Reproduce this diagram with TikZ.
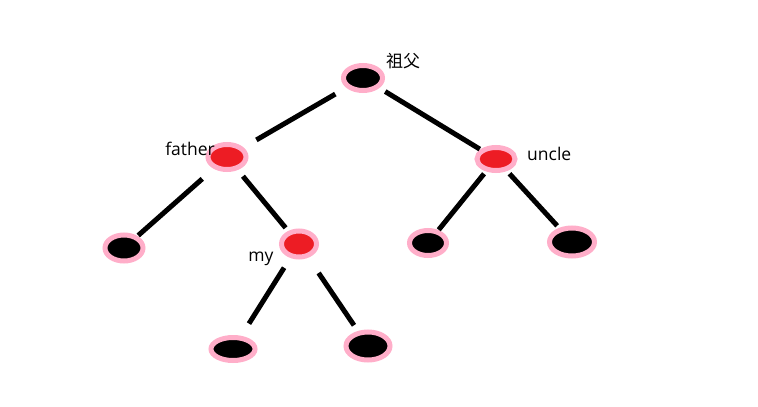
\documentclass[tikz,border=0pt]{standalone}
\usepackage{fontspec}
\setmainfont{Open Sans}
\newfontfamily\cjk{Noto Sans CJK SC}
\usetikzlibrary{shapes.geometric}
\definecolor{ringpink}{RGB}{255,174,201}
\definecolor{paintred}{RGB}{237,28,36}
\begin{document}
\begin{tikzpicture}[x=1pt,y=-1pt,
  treenode/.style={ellipse,draw=ringpink,line width=5pt,inner sep=0pt},
  blacknode/.style={treenode,fill=black},
  rednode/.style={treenode,fill=paintred},
  edge/.style={line width=5pt,black},
  lbl/.style={font=\fontsize{17.5}{20}\selectfont,inner sep=0pt,text=black}]
\useasboundingbox (0,0) rectangle (758,407);
\fill[white] (0,0) rectangle (758,407);
% nodes
\node[blacknode,minimum width=39pt,minimum height=25pt] (root) at (363,78) {};
\node[rednode,minimum width=38pt,minimum height=25pt] (father) at (227,157) {};
\node[rednode,minimum width=38pt,minimum height=23pt] (uncle) at (496,159) {};
\node[blacknode,minimum width=38pt,minimum height=26pt] (fl) at (124,248) {};
\node[rednode,minimum width=35pt,minimum height=26pt] (my) at (299,244) {};
\node[blacknode,minimum width=37pt,minimum height=25pt] (ul) at (428,243) {};
\node[blacknode,minimum width=45pt,minimum height=28pt] (ur) at (572,242) {};
\node[blacknode,minimum width=44pt,minimum height=23pt] (ml) at (233,349) {};
\node[blacknode,minimum width=44pt,minimum height=28pt] (mr) at (368,346) {};
% labels
\node[lbl,font=\cjk\fontsize{17}{20}\selectfont] (lroot) at (403,61) {祖父};
\node[lbl,anchor=east] (lfather) at (215,149) {father};
\node[lbl,anchor=west] (luncle) at (527,154) {uncle};
\node[lbl] (lmy) at (261,259) {my};
% edges
\draw[edge,shorten <=32pt,shorten >=34pt] (root.center) -- (father.center);
\draw[edge,shorten <=26pt,shorten >=19pt] (root.center) -- (uncle.center);
\draw[edge,shorten <=33pt,shorten >=19pt] (father.center) -- (fl.center);
\draw[edge,shorten <=25pt,shorten >=21pt] (father.center) -- (my.center);
\draw[edge,shorten <=19pt,shorten >=17pt] (uncle.center) -- (ul.center);
\draw[edge,shorten <=20pt,shorten >=22pt] (uncle.center) -- (ur.center);
\draw[edge,shorten <=28pt,shorten >=30pt] (my.center) -- (ml.center);
\draw[edge,shorten <=35pt,shorten >=25pt] (my.center) -- (mr.center);
\end{tikzpicture}
\end{document}
